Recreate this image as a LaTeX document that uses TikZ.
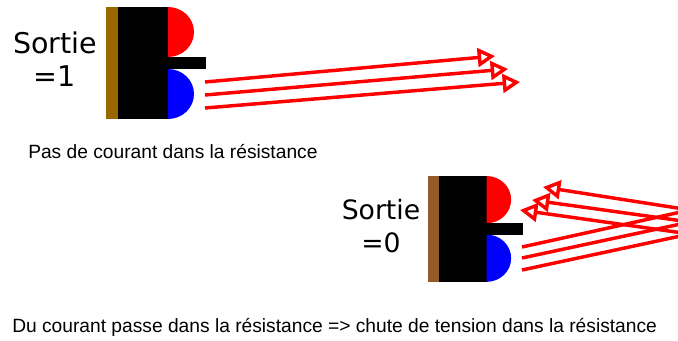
\documentclass[tikz,border=0pt]{standalone}
\usepackage{fontspec}
\setmainfont{Liberation Sans}
\newfontfamily\verdana{DejaVu Sans}
\usepackage{tikz}
\usetikzlibrary{arrows.meta}

\definecolor{brunA}{RGB}{153,102,0}
\definecolor{brunB}{RGB}{150,90,40}

\tikzset{
    rayon/.style={red, line width=2.6pt, line join=round, -{Triangle[open, length=13pt, width=14pt]}},
    etat/.style={font=\verdana\fontsize{#1}{24.75}\selectfont, align=center, inner sep=0pt},
    legende/.style={font=\fontsize{14.4}{17}\selectfont, anchor=west, inner sep=0pt},
    % capteur : support, boitier, emetteur (rouge), recepteur (bleu)
    capteur/.pic={
        \fill[#1] (0,0) rectangle (12,112);
        \fill[black] (12,0) rectangle (62,112);
        \fill[red] (62,50) arc[start angle=90, end angle=-90, x radius=26, y radius=25] -- cycle;
        \fill[blue] (62,112) arc[start angle=90, end angle=-90, x radius=26, y radius=25] -- cycle;
        \fill[black] (62,50) rectangle (100,62);
    }
}

\begin{document}
\begin{tikzpicture}[x=0.75pt, y=-0.75pt]
    \useasboundingbox (0,0) rectangle (678,340);
    \clip (0,0) rectangle (678,340);

    % Sortie = 1 : rien ne revient
    \pic at (106,7) {capteur=brunA};
    \node[etat=21.4] (s1) at (55,59) {Sortie\\=1};
    \foreach \i/\xa/\ya/\xb/\yb in {1/205/82/495/56, 2/205/95/508/69, 3/205/108/520/82} {
        \coordinate (e\i) at (\xa,\ya);
        \coordinate (f\i) at (\xb,\yb);
        \draw[rayon] (e\i) -- (f\i);
    }
    \node[legende] (t1) at (28,152) {Pas de courant dans la résistance};

    % Sortie = 0 : le faisceau est renvoye
    \pic[scale=0.945] at (428,176) {capteur=brunB};
    \node[etat=20] (s0) at (381,226) {Sortie\\=0};
    \foreach \i/\ya/\yr/\xc/\yc in {1/247/210/543/187, 2/258/222/532/200, 3/270/234/520/210} {
        \coordinate (g\i) at (522,\ya);
        \coordinate (r\i) at (690,\yr);
        \coordinate (h\i) at (\xc,\yc);
        \draw[rayon] (g\i) -- (r\i) -- (h\i);
    }
    \node[legende] (t0) at (12,327) {Du courant passe dans la résistance => chute de tension dans la résistance};
\end{tikzpicture}
\end{document}
